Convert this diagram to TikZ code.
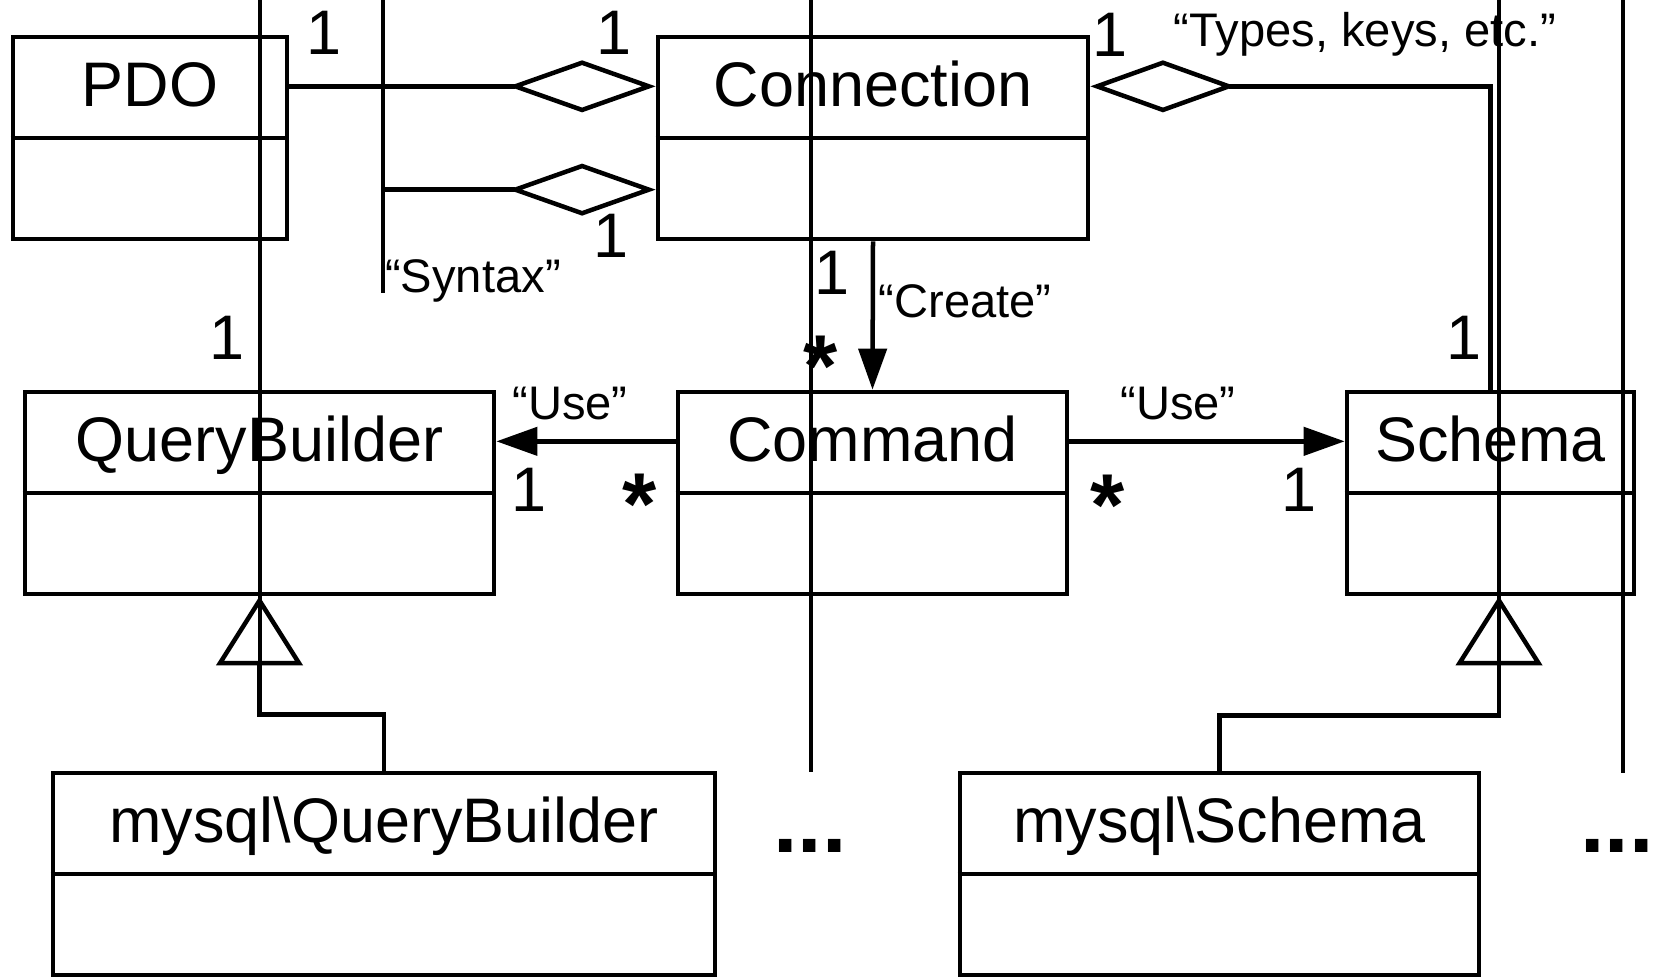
\documentclass[tikz,border=0pt]{standalone}
\usepackage{fontspec}
\setmainfont{Liberation Sans}
\usetikzlibrary{arrows.meta,calc,positioning}

\begin{document}
\begin{tikzpicture}[x=0.01cm, y=-0.01cm, line width=0.045cm,
    umlclass/.style={draw, minimum height=2.02cm, inner sep=0pt},
    classname/.style={anchor=base, inner sep=0pt, font=\fontsize{17.9}{20}\selectfont},
    multlabel/.style={anchor=base, inner sep=0pt, font=\fontsize{17.9}{20}\selectfont},
    starlabel/.style={anchor=base, inner sep=0pt, font=\fontsize{25}{28}\selectfont\bfseries},
    rolelabel/.style={anchor=base, inner sep=0pt, font=\fontsize{13.4}{16}\selectfont},
    aggr/.style={-{Diamond[open, length=1.47cm, width=0.52cm]}},
    aggrstart/.style={{Diamond[open, length=1.45cm, width=0.52cm]}-},
    usesarrow/.style={-{Triangle[length=0.41cm, width=0.28cm]}},
    inherit/.style={-{Triangle[open, length=0.69cm, width=0.86cm]}}]
     	\useasboundingbox (0,0) rectangle (1655,980);
     	% classes
     	\node[umlclass, minimum width=2.74cm] (pdo)  at (150,138)   {};
     	\node[umlclass, minimum width=4.30cm] (conn) at (873,138)   {};
     	\node[umlclass, minimum width=4.69cm] (qb)   at (259.5,493) {};
     	\node[umlclass, minimum width=3.89cm] (cmd)  at (872.5,493) {};
     	\node[umlclass, minimum width=2.87cm] (sch)  at (1490.5,493) {};
     	\node[umlclass, minimum width=6.62cm] (mqb)  at (384,874)   {};
     	\node[umlclass, minimum width=5.19cm] (msch) at (1219.5,874) {};
     	\foreach \b/\t in {pdo/PDO, conn/Connection, qb/QueryBuilder, cmd/Command, sch/Schema,
     	    mqb/mysql\textbackslash QueryBuilder, msch/mysql\textbackslash Schema} {
     	  \draw (\b.west) -- (\b.east);
     	  \node[classname] (\b-t) at ([yshift=-0.715cm]\b.north) {\t};
     	}
     	% loose vertical lines
     	\foreach \x/\y [count=\i] in {260/717, 383/293, 811/772, 1499/718, 1623/773} {
     	  \coordinate (v\i-top) at (\x,0);
     	  \coordinate (v\i-end) at (\x,\y);
     	  \draw (v\i-top) -- (v\i-end);
     	}
     	\coordinate (conn-low) at ($(conn.south west)!.5!(conn.west)$);
     	% connectors
     	\draw[aggr] ($(pdo.north east)!.5!(pdo.east)$) -- ($(conn.north west)!.5!(conn.west)$);
     	\draw[aggr] (v2-top |- conn-low) -- (conn-low);
     	\draw[aggrstart] ($(conn.north east)!.5!(conn.east)$) -| (sch.north);
     	\draw[usesarrow] (conn.south) -- (cmd.north);
     	\draw[usesarrow] ($(cmd.north west)!.5!(cmd.west)$) -- ($(qb.north east)!.5!(qb.east)$);
     	\draw[usesarrow] ($(cmd.north east)!.5!(cmd.east)$) -- ($(sch.north west)!.5!(sch.west)$);
     	\draw[inherit] (mqb.north) -- ++(0,-56) -| (qb.south);
     	\draw[inherit] (msch.north) -- ++(0,-55) -| ([xshift=0.085cm]sch.south);
     	% multiplicities
     	\foreach \x/\y [count=\i] in {324/55, 614/55, 611/258, 1110/57, 832/295, 529/512, 227/360, 1299/512, 1464/360}
     	  \node[multlabel] (one\i) at (\x,\y) {1};
     	\foreach \x/\y [count=\i] in {821/397, 640/535, 1108/536}
     	  \node[starlabel] (many\i) at (\x,\y) {*};
     	% roles
     	\node[rolelabel] (types)  at (1365,47) {“Types, keys, etc.”};
     	\node[rolelabel, anchor=base west] (syntax) at (v2-end) {“Syntax”};
     	\node[rolelabel] (create) at (965,318) {“Create”};
     	\node[rolelabel] (useqb)  at (570,420) {“Use”};
     	\node[rolelabel] (usesch) at (1178,420) {“Use”};
     	\node[starlabel] (moreqb)  at (810,852)  {...};
     	\node[starlabel] (moresch) at (1617,852) {...};
\end{tikzpicture}
\end{document}
